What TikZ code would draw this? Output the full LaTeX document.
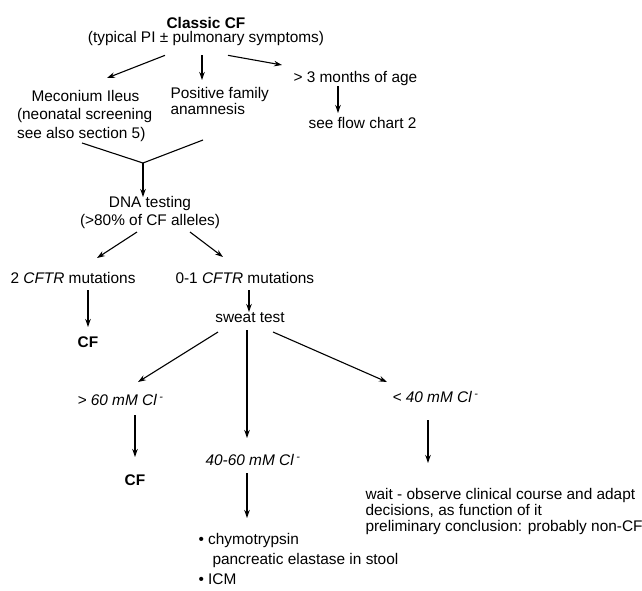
\documentclass[tikz,border=0pt]{standalone}
\usepackage{fontspec}
\setmainfont{Liberation Sans}
\usetikzlibrary{arrows.meta}

\newcommand{\chl}{Cl\,\textsuperscript{-}}

\begin{document}
\begin{tikzpicture}[x=1pt, y=-1pt, >={Stealth[length=8pt,width=5.5pt]}, line width=1.1pt,
  txt/.style={inner sep=0pt, font=\fontsize{15.4}{18}\selectfont, text height=11pt, text depth=3.3pt},
  block/.style={inner sep=0pt, align=left, anchor=north west}]
  \useasboundingbox (0,0) rectangle (642,590);

  % top
  \node[inner sep=0pt, align=center, font=\fontsize{15.4}{14}\selectfont] (classic) at (206,31.6)
    {\bfseries Classic CF\\(typical PI ± pulmonary symptoms)};
  \node[block, font=\fontsize{15.4}{18.5}\selectfont] (meco) at (16.5,89.5)
    {\hspace*{14.5pt}Meconium Ileus\\(neonatal screening\\see also section 5)};
  \node[block, font=\fontsize{15.4}{16}\selectfont] (family) at (170,86.5)
    {Positive family\\anamnesis};
  \node[txt, anchor=west] (age) at (293,78.5) {> 3 months of age};
  \node[txt, anchor=west] (chart) at (308,124.5) {see flow chart 2};

  \draw[->] ([shift={(-41,9)}]classic.south) -- ([shift={(90.5,-11.5)}]meco.north west);
  \draw[->] ([shift={(-4,9)}]classic.south) -- ([shift={(32,-6.5)}]family.north west);
  \draw[->] ([shift={(22,9)}]classic.south) -- ([shift={(-11,-13.5)}]age.west);
  \draw[->] ([shift={(45,7.5)}]age.west) -- ([shift={(30,-11.5)}]chart.west);

  % DNA testing
  \node[inner sep=0pt, align=center, font=\fontsize{15.4}{18}\selectfont] (dna) at (150,212.6)
    {DNA testing\\(>80\% of CF alleles)};
  \coordinate (join) at ([shift={(-7,-49.6)}]dna.center);
  \draw ([shift={(65.5,53.5)}]meco.north west) -- (join) -- ([shift={(33,53.5)}]family.north west);
  \draw[->] (join) -- ([shift={(-7,-15.6)}]dna.center);

  \node[txt, anchor=west] (two) at (10,279.5) {2 \textit{CFTR} mutations};
  \node[txt, anchor=west] (few) at (175,279.5) {0-1 \textit{CFTR} mutations};
  \node[txt, font=\fontsize{15.4}{18}\selectfont\bfseries] (cf1) at (88,343.5) {CF};
  \node[txt] (sweat) at (250,318.5) {sweat test};

  \draw[->] ([shift={(-13,19.4)}]dna.center) -- ([shift={(87,-21.5)}]two.west);
  \draw[->] ([shift={(40,19.4)}]dna.center) -- ([shift={(48,-22.5)}]few.west);
  \draw[->] ([shift={(78,10.5)}]two.west) -- ([shift={(0,-16.5)}]cf1.center);
  \draw[->] ([shift={(74,10.5)}]few.west) -- ([shift={(-1,-6.5)}]sweat.center);

  % sweat test results
  \node[txt, anchor=west, font=\fontsize{15.4}{18}\selectfont\itshape] (high) at (77,401.5) {> 60 mM \chl};
  \node[txt, anchor=west, font=\fontsize{15.4}{18}\selectfont\itshape] (mid) at (205,461.5) {40-60 mM \chl};
  \node[txt, anchor=west, font=\fontsize{15.4}{18}\selectfont\itshape] (low) at (392,398.5) {< 40 mM \chl};

  \draw[->] ([shift={(-32,13.5)}]sweat.center) -- ([shift={(61,-19.5)}]high.west);
  \draw[->] ([shift={(-3,11.5)}]sweat.center) -- ([shift={(42,-23.5)}]mid.west);
  \draw[->] ([shift={(23,13.5)}]sweat.center) -- ([shift={(-5,-16.5)}]low.west);

  \node[txt, font=\fontsize{15.4}{18}\selectfont\bfseries] (cf2) at (135,481.5) {CF};
  \node[block, font=\fontsize{15.4}{20}\selectfont] (stool) at (198,532.5)
    {• chymotrypsin\\\hspace*{14pt}pancreatic elastase in stool\\• ICM};
  \node[block, font=\fontsize{15.4}{16}\selectfont] (wait) at (365,487.7)
    {wait - observe clinical course and adapt\\decisions, as function of it\\preliminary conclusion: probably non-CF};

  \draw[->] ([shift={(58,13.5)}]high.west) -- ([shift={(0,-24.5)}]cf2.center);
  \draw[->] ([shift={(42,11.5)}]mid.west) -- ([shift={(49,-14.5)}]stool.north west);
  \draw[->] ([shift={(36,21.5)}]low.west) -- ([shift={(63,-24.7)}]wait.north west);
\end{tikzpicture}
\end{document}
